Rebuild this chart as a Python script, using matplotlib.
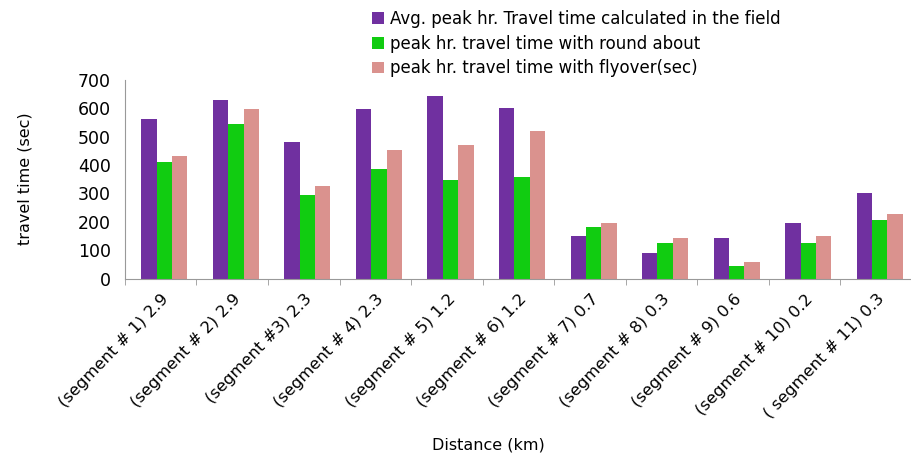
import numpy as np
import matplotlib.pyplot as plt

categories = ["(segment # 1) 2.9", "(segment # 2) 2.9", "(segment #3) 2.3",
              "(segment # 4) 2.3", "(segment # 5) 1.2", "(segment # 6) 1.2",
              "(segment # 7) 0.7", "(segment # 8) 0.3", "(segment # 9) 0.6",
              "(segment # 10) 0.2", "( segment # 11) 0.3"]
field = [563, 629, 479, 596, 641, 602, 150, 91, 144, 195, 301]
roundabout = [411, 543, 295, 386, 346, 358, 181, 124, 45, 124, 207]
flyover = [431, 596, 327, 452, 470, 518, 195, 144, 59, 150, 228]
series_names = ["Avg. peak hr. Travel time calculated in the field",
                "peak hr. travel time with round about",
                "peak hr. travel time with flyover(sec)"]
colors = ["#7030A0", "#11CC11", "#DA928E"]

plt.rcParams["font.family"] = ["DejaVu Sans"]

fig = plt.figure(figsize=(9.12, 4.63), dpi=100)
ax = fig.add_axes([0.137, 0.398, 0.863, 0.430])

x = np.arange(len(categories))
w = 0.215
for i, (vals, name, c) in enumerate(zip([field, roundabout, flyover], series_names, colors)):
    ax.bar(x + (i - 1) * w + 0.05, vals, w, color=c, label=name)

ax.set_ylim(0, 700)
ax.set_yticks(range(0, 701, 100))
ax.set_xlim(-0.5, 10.36)
ax.set_xticks(x + 0.08)
ax.set_xticklabels(categories, rotation=46, ha="right", va="center",
                   rotation_mode="anchor", fontsize=11.8)
ax.set_xticks(np.arange(-0.5, 11, 1), minor=True)
ax.tick_params(axis="x", which="major", length=0, pad=13)
ax.tick_params(axis="x", which="minor", length=4, color="#999999", direction="out")
ax.tick_params(axis="y", length=0, labelsize=12.5, pad=10)

for s in ["top", "right"]:
    ax.spines[s].set_visible(False)
for s in ["left", "bottom"]:
    ax.spines[s].set_color("#999999")

ax.set_ylabel("travel time (sec)", fontsize=11.5)
ax.yaxis.set_label_coords(-0.118, 0.5)
fig.text(0.535, 0.03, "Distance (km)", fontsize=11.5, ha="center")

fig.legend(loc="upper left", bbox_to_anchor=(0.397, 1.0), frameon=False,
           fontsize=12, handlelength=0.7, handleheight=0.7, handletextpad=0.35,
           labelspacing=0.4, borderaxespad=0.2)

fig.savefig("out.png", dpi=100)
